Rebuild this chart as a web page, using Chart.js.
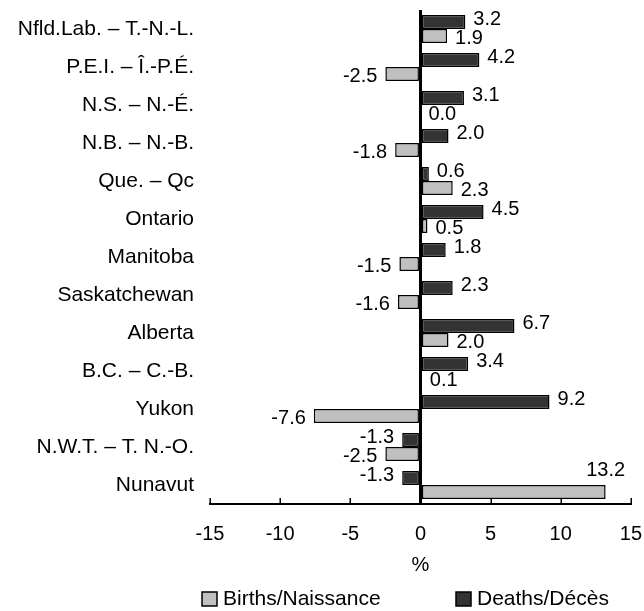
<!DOCTYPE html>
<html><head><meta charset="utf-8">
<script src="https://cdn.jsdelivr.net/npm/chart.js@4.4.1/dist/chart.umd.min.js"></script>
<style>html,body{margin:0;padding:0;background:#fff}</style>
</head><body>
<canvas id="c" width="644" height="611"></canvas>
<script>
const categories = ['Nfld.Lab. – T.-N.-L.', 'P.E.I. – Î.-P.É.', 'N.S. – N.-É.', 'N.B. – N.-B.', 'Que. – Qc', 'Ontario', 'Manitoba', 'Saskatchewan', 'Alberta', 'B.C. – C.-B.', 'Yukon', 'N.W.T. – T. N.-O.', 'Nunavut'];
const births = [1.9, -2.5, 0.0, -1.8, 2.3, 0.5, -1.5, -1.6, 2.0, 0.1, -7.6, -2.5, 13.2];
const deaths = [3.2, 4.2, 3.1, 2.0, 0.6, 4.5, 1.8, 2.3, 6.7, 3.4, 9.2, -1.3, -1.3];
const seriesNames = ['Births/Naissance', 'Deaths/Décès'];
const xMin = -15, xMax = 15, xStep = 5;
const axisTitle = '%';

const FONT = '"Liberation Sans", Arial, sans-serif';
Chart.defaults.font.family = FONT;
Chart.defaults.font.size = 20;
Chart.defaults.color = '#000';

const valueLabels = {
  id: 'valueLabels',
  afterDatasetsDraw(chart) {
    const ctx = chart.ctx, area = chart.chartArea;
    ctx.save();
    ctx.font = '20px ' + FONT;
    ctx.fillStyle = '#000';
    ctx.textBaseline = 'middle';
    chart.data.datasets.forEach((ds, di) => {
      const meta = chart.getDatasetMeta(di);
      const dy = di === 0 ? 2 : -2;
      meta.data.forEach((bar, i) => {
        const v = ds.data[i];
        const txt = v.toFixed(1);
        const w = ctx.measureText(txt).width;
        let x, y = bar.y + dy, align;
        if (v >= 0) {
          x = bar.x + 8; align = 'left';
          if (x + w > area.right) { x = bar.x; align = 'center'; y = bar.y - 22; }
        } else { x = bar.x - 8; align = 'right'; }
        ctx.textAlign = align;
        ctx.fillText(txt, x, y);
      });
    });
    ctx.restore();
  }
};

const crossTicks = {
  id: 'crossTicks',
  afterDraw(chart) {
    const s = chart.scales.x, ctx = chart.ctx;
    ctx.save();
    ctx.strokeStyle = '#000';
    ctx.lineWidth = 1.5;
    s.ticks.forEach(t => {
      const px = Math.round(s.getPixelForValue(t.value)) + 0.25;
      ctx.beginPath();
      ctx.moveTo(px, s.top - 6);
      ctx.lineTo(px, s.top + 1);
      ctx.stroke();
    });
    ctx.restore();
  }
};

const bottomLegend = {
  id: 'bottomLegend',
  afterDraw(chart) {
    const ctx = chart.ctx;
    const pos = [202, 456];
    const yc = 599;
    ctx.save();
    ctx.font = '21px ' + FONT;
    ctx.textBaseline = 'middle';
    ctx.textAlign = 'left';
    chart.data.datasets.forEach((ds, di) => {
      const x = pos[di];
      ctx.fillStyle = ds.backgroundColor;
      ctx.fillRect(x, yc - 7, 15, 14);
      ctx.strokeStyle = '#000';
      ctx.lineWidth = 1.5;
      ctx.strokeRect(x, yc - 7, 15, 14);
      ctx.fillStyle = '#000';
      ctx.fillText(ds.label, x + 21, yc);
    });
    ctx.restore();
  }
};

new Chart(document.getElementById('c'), {
  type: 'bar',
  data: {
    labels: categories,
    datasets: [
      { label: seriesNames[0], data: births, order: 1, backgroundColor: '#c0c0c0', borderColor: '#000', borderWidth: 1.5, borderSkipped: false },
      { label: seriesNames[1], data: deaths, order: 0, backgroundColor: '#333333', borderColor: '#000', borderWidth: 1.5, borderSkipped: false }
    ]
  },
  options: {
    indexAxis: 'y',
    responsive: false,
    animation: false,
    devicePixelRatio: 1,
    layout: { padding: { top: 10, right: 13, left: 0, bottom: 34 } },
    datasets: { bar: { categoryPercentage: 0.74, barPercentage: 1.0 } },
    plugins: { legend: { display: false }, tooltip: { enabled: false } },
    scales: {
      y: {
        grid: { display: false, drawTicks: false },
        border: { display: false },
        ticks: { padding: 16, font: { size: 21 } },
        afterFit(scale) { scale.width = 210; scale.paddingTop = 0; scale.paddingBottom = 0; }
      },
      x: {
        min: xMin, max: xMax,
        grid: {
          display: true,
          drawOnChartArea: true,
          drawTicks: true,
          tickLength: 16,
          tickColor: 'rgba(0,0,0,0)',
          color: c => (c.tick && c.tick.value === 0) ? '#000' : 'rgba(0,0,0,0)',
          lineWidth: c => (c.tick && c.tick.value === 0) ? 3 : 0
        },
        border: { display: true, color: '#000', width: 2 },
        ticks: { stepSize: xStep, padding: 2, font: { size: 20 }, maxRotation: 0 },
        title: { display: true, text: axisTitle, font: { size: 20 }, padding: { top: 5, bottom: 0 } }
      }
    }
  },
  plugins: [valueLabels, crossTicks, bottomLegend]
});
</script>
</body></html>
